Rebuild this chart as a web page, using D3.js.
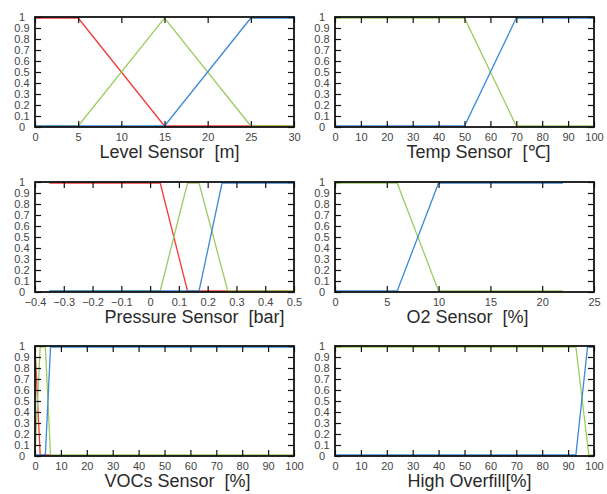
<!DOCTYPE html>
<html>
<head>
<meta charset="utf-8">
<script src="https://d3js.org/d3.v7.min.js"></script>
<style>
  body { margin: 0; background: #fff; }
  svg text { font-family: "Liberation Sans", Arial, sans-serif; }
</style>
</head>
<body>
<svg id="chart" width="607" height="494"></svg>
<script>
// membership functions, [input value, degree]
var levelLow  = [[0, 1], [5, 1], [15, 0], [30, 0]];
var levelMid  = [[0, 0], [5, 0], [15, 1], [25, 0], [30, 0]];
var levelHigh = [[0, 0], [15, 0], [25, 1], [30, 1]];

var tempMid  = [[0, 1], [50, 1], [70, 0], [100, 0]];
var tempHigh = [[0, 0], [50, 0], [70, 1], [100, 1]];

var pressLow  = [[-0.35, 1], [0.035, 1], [0.13, 0], [0.5, 0]];
var pressMid  = [[-0.35, 0], [0.035, 0], [0.13, 1], [0.17, 1], [0.27, 0], [0.5, 0]];
var pressHigh = [[-0.35, 0], [0.17, 0], [0.25, 1], [0.5, 1]];

var o2Mid  = [[0, 1], [6, 1], [10, 0], [22, 0]];
var o2High = [[0, 0], [6, 0], [10, 1], [22, 1]];

var vocLow  = [[0, 1], [2, 0], [6, 0]];
var vocMid  = [[0, 0], [2, 1], [4, 1], [6, 0], [100, 0]];
var vocHigh = [[0, 0], [4, 0], [6, 1], [100, 1]];

var overMid  = [[0, 1], [93, 1], [98, 0], [100, 0]];
var overHigh = [[0, 0], [93, 0], [97.5, 1], [100, 1]];

var titles = ["Level Sensor  [m]", "Temp Sensor  [\u2103]", "Pressure Sensor  [bar]",
              "O2 Sensor  [%]", "VOCs Sensor  [%]", "High Overfill[%]"];
var xDomains = [[0, 30], [0, 100], [-0.4, 0.5], [0, 25], [0, 100], [0, 100]];
var xTicks = [
  d3.range(0, 31, 5),
  d3.range(0, 101, 10),
  d3.ticks(-0.4, 0.5, 9),
  d3.range(0, 26, 5),
  d3.range(0, 101, 10),
  d3.range(0, 101, 10)
];
var yTicks = d3.ticks(0, 1, 10);

var colors = { low: "#f23a3a", mid: "#9ccc62", high: "#3a8ad6" };

var panels = [
  { series: [["low", levelLow], ["mid", levelMid], ["high", levelHigh]] },
  { series: [["mid", tempMid], ["high", tempHigh]] },
  { series: [["low", pressLow], ["mid", pressMid], ["high", pressHigh]] },
  { series: [["mid", o2Mid], ["high", o2High]] },
  { series: [["low", vocLow], ["mid", vocMid], ["high", vocHigh]] },
  { series: [["mid", overMid], ["high", overHigh]] }
];

// layout
var colX = [35, 335];
var rowY = [17, 182, 346];
var pw = 259, ph = 110;
var titleDx = [5, 14, 30, 3, 13, 5];

var svg = d3.select("#chart");

panels.forEach(function (p, i) {
  var left = colX[i % 2], top = rowY[Math.floor(i / 2)];
  var g = svg.append("g").attr("transform", "translate(" + left + "," + top + ")");

  var x = d3.scaleLinear().domain(xDomains[i]).range([0, pw]);
  var y = d3.scaleLinear().domain([0, 1]).range([ph - 1, 1]);
  var yAxisScale = d3.scaleLinear().domain([0, 1]).range([ph, 0]);

  var line = d3.line()
    .x(function (d) { return x(d[0]); })
    .y(function (d) { return y(d[1]); });

  g.selectAll("path.mf")
    .data(p.series)
    .enter()
    .append("path")
    .attr("class", "mf")
    .attr("d", function (d) { return line(d[1]); })
    .attr("fill", "none")
    .attr("stroke", function (d) { return colors[d[0]]; })
    .attr("stroke-width", 1.3);

  // ticks on all four sides, pointing inward
  var bottom = g.append("g").attr("transform", "translate(0," + ph + ")")
    .call(d3.axisBottom(x).tickValues(xTicks[i]).tickSize(-6).tickPadding(6)
      .tickFormat(d3.format("~g")));
  g.append("g")
    .call(d3.axisTop(x).tickValues(xTicks[i]).tickSize(-6).tickFormat(""));
  var leftAx = g.append("g")
    .call(d3.axisLeft(yAxisScale).tickValues(yTicks).tickSize(-6)
      .tickFormat(d3.format("~g")));
  g.append("g").attr("transform", "translate(" + pw + ",0)")
    .call(d3.axisRight(yAxisScale).tickValues(yTicks).tickSize(-6).tickFormat(""));

  g.selectAll(".domain").remove();
  g.selectAll(".tick line").attr("stroke", "#111").attr("stroke-width", 1.2);
  g.selectAll(".tick text").attr("fill", "#444").style("font-size", "11px");
  leftAx.selectAll(".tick text").attr("x", -13).attr("text-anchor", "middle");

  g.append("rect")
    .attr("width", pw).attr("height", ph)
    .attr("fill", "none").attr("stroke", "#111").attr("stroke-width", 1.8);

  g.append("text")
    .attr("x", pw / 2 + titleDx[i])
    .attr("y", ph + 31)
    .attr("text-anchor", "middle")
    .style("white-space", "pre")
    .style("font-size", "18px")
    .attr("fill", "#2a2a2a")
    .text(titles[i]);
});
</script>
</body>
</html>
